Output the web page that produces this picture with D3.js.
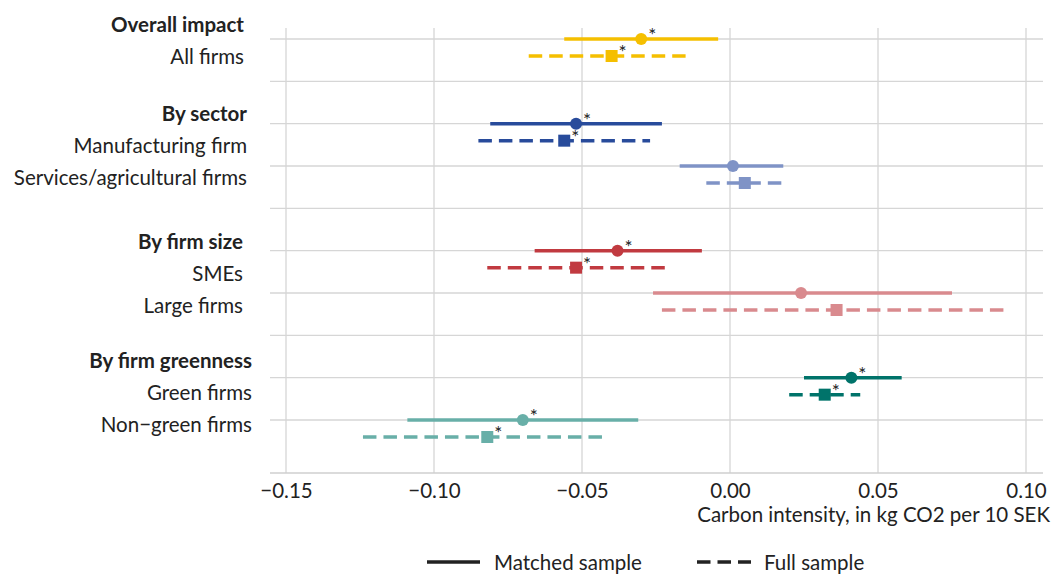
<!DOCTYPE html>
<html><head><meta charset="utf-8">
<script src="https://cdn.jsdelivr.net/npm/d3@7"></script>
<style>body{margin:0;background:#fff}svg{display:block}text{font-family:Lato,"Noto Sans",sans-serif;fill:#222}</style>
</head><body><svg id="c" width="1053" height="576"></svg>
<script>
// ---- data ----
const rowKeys = ["All firms","gap1","Manufacturing firm","Services/agricultural firms","gap2","SMEs","Large firms","gap3","Green firms","Non−green firms"];
const categories = ["All firms","Manufacturing firm","Services/agricultural firms","SMEs","Large firms","Green firms","Non−green firms"];
const matchedEst  = [-0.030, -0.052,  0.001, -0.038,  0.024, 0.041, -0.070];
const matchedLow  = [-0.056, -0.081, -0.017, -0.066, -0.026, 0.025, -0.109];
const matchedHigh = [-0.004, -0.023,  0.018, -0.0095, 0.075, 0.058, -0.031];
const fullEst     = [-0.040, -0.056,  0.005, -0.052,  0.036, 0.032, -0.082];
const fullLow     = [-0.068, -0.085, -0.008, -0.082, -0.023, 0.020, -0.124];
const fullHigh    = [-0.015, -0.027,  0.018, -0.022,  0.093, 0.044, -0.043];
const matchedSig  = [true, true, false, true, false, true, true];
const fullSig     = [true, true, false, true, false, true, true];
const colors = ["#F5BF00","#284B9B","#7F93C6","#C13A40","#D98A8E","#00736A","#68AFA8"];
const groupHeaders = ["Overall impact","By sector","By firm size","By firm greenness"];
const groupMembers = [["All firms"],["Manufacturing firm","Services/agricultural firms"],["SMEs","Large firms"],["Green firms","Non−green firms"]];
const xTicks = [-0.15,-0.10,-0.05,0.00,0.05,0.10];
const xTitle = "Carbon intensity, in kg CO2 per 10 SEK";
const legendLabels = ["Matched sample","Full sample"];

// ---- layout ----
const FS = 20.5;
const svg = d3.select("#c");
const x = d3.scaleLinear().domain([-0.15,0.10]).range([286,1026]);
const y = d3.scalePoint().domain(rowKeys).range([39,420]);
const plotL = 270, plotR = 1043, plotT = 28, axisY = 473;
const fullOff = 17;
const grid = "#d6d6d6";
const legY = 562;

// gridlines
svg.append("g").selectAll("line").data(xTicks).join("line")
  .attr("x1",d=>x(d)).attr("x2",d=>x(d)).attr("y1",plotT).attr("y2",axisY)
  .attr("stroke",grid).attr("stroke-width",1.3);
svg.append("g").selectAll("line").data(rowKeys).join("line")
  .attr("x1",plotL).attr("x2",plotR).attr("y1",d=>y(d)).attr("y2",d=>y(d))
  .attr("stroke",grid).attr("stroke-width",1.3);

// axis
const ax = svg.append("g").attr("transform",`translate(0,${axisY})`)
  .call(d3.axisBottom(x).tickValues(xTicks).tickFormat(d3.format(".2f")).tickSize(0).tickPadding(10));
ax.select(".domain").remove();
ax.selectAll("text").attr("font-size",FS).attr("fill","#222").style("font-family","Lato");
svg.append("line").attr("x1",plotL).attr("x2",plotR).attr("y1",axisY).attr("y2",axisY)
  .attr("stroke","#cfcfcf").attr("stroke-width",1.5);
svg.append("text").attr("x",1050).attr("y",514).attr("text-anchor","end")
  .attr("dominant-baseline","central").attr("font-size",FS).text(xTitle);

// marks
const data = categories.map((c,i)=>({c,i,col:colors[i],
  m:{e:matchedEst[i],lo:matchedLow[i],hi:matchedHigh[i],s:matchedSig[i]},
  f:{e:fullEst[i],lo:fullLow[i],hi:fullHigh[i],s:fullSig[i]}}));
const g = svg.append("g");
// matched
g.selectAll(".ml").data(data).join("line")
  .attr("x1",d=>x(d.m.lo)).attr("x2",d=>x(d.m.hi)).attr("y1",d=>y(d.c)).attr("y2",d=>y(d.c))
  .attr("stroke",d=>d.col).attr("stroke-width",3.5);
g.selectAll(".mp").data(data).join("circle")
  .attr("cx",d=>x(d.m.e)).attr("cy",d=>y(d.c)).attr("r",6).attr("fill",d=>d.col);
// full
g.selectAll(".fl").data(data).join("line")
  .attr("x1",d=>x(d.f.lo)).attr("x2",d=>x(d.f.hi)).attr("y1",d=>y(d.c)+fullOff).attr("y2",d=>y(d.c)+fullOff)
  .attr("stroke",d=>d.col).attr("stroke-width",3.5).attr("stroke-dasharray","13.5,7");
g.selectAll(".fp").data(data).join("rect")
  .attr("x",d=>x(d.f.e)-6).attr("y",d=>y(d.c)+fullOff-6).attr("width",12).attr("height",12).attr("fill",d=>d.col);
// stars
g.selectAll(".ms").data(data.filter(d=>d.m.s)).join("text")
  .attr("x",d=>x(d.m.e)+11).attr("y",d=>y(d.c)+3).attr("text-anchor","middle")
  .attr("font-size",19).attr("fill","#333").text("*");
g.selectAll(".fs").data(data.filter(d=>d.f.s)).join("text")
  .attr("x",d=>x(d.f.e)+11).attr("y",d=>y(d.c)+fullOff+3).attr("text-anchor","middle")
  .attr("font-size",19).attr("fill","#333").text("*");

// y labels
const headShift = [-15,-11,-10,-18], rightEdge = [244,247,243,252];
groupHeaders.forEach((h,gi)=>{
  const y0 = y(groupMembers[gi][0]) + headShift[gi];
  const lines = [h, ...groupMembers[gi]];
  svg.append("g").selectAll("text").data(lines).join("text")
    .attr("x",rightEdge[gi]).attr("y",(d,k)=>y0+k*32).attr("text-anchor","end")
    .attr("dominant-baseline","central").attr("font-size",FS)
    .attr("font-weight",(d,k)=>k===0?700:400).text(d=>d);
});

// legend
const lg = svg.append("g");
lg.append("line").attr("x1",427).attr("x2",480).attr("y1",legY).attr("y2",legY).attr("stroke","#222").attr("stroke-width",3.5);
lg.append("text").attr("x",494).attr("y",legY).attr("dominant-baseline","central").attr("font-size",FS).text(legendLabels[0]);
lg.append("line").attr("x1",697).attr("x2",751).attr("y1",legY).attr("y2",legY).attr("stroke","#222").attr("stroke-width",3.5).attr("stroke-dasharray","13.5,7");
lg.append("text").attr("x",764).attr("y",legY).attr("dominant-baseline","central").attr("font-size",FS).text(legendLabels[1]);
</script></body></html>
